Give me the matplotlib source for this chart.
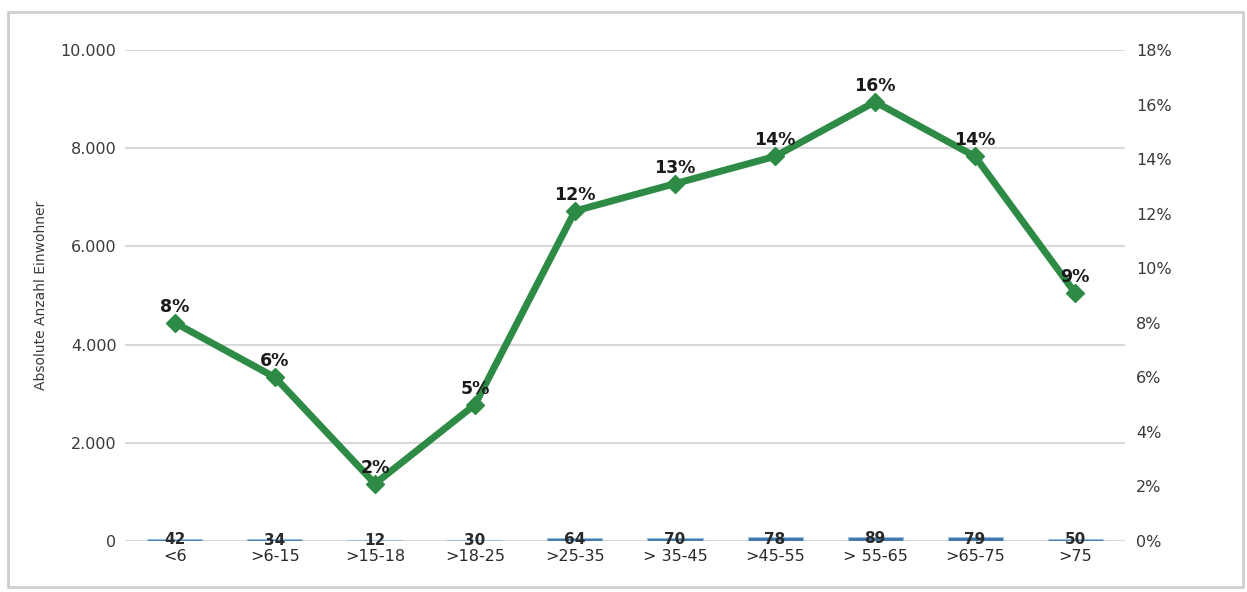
import matplotlib
matplotlib.use("Agg")
import matplotlib.pyplot as plt
from matplotlib.patches import Rectangle
from matplotlib.ticker import FuncFormatter

# Age groups
categories = ["<6", ">6-15", ">15-18", ">18-25", ">25-35", "> 35-45", ">45-55", "> 55-65", ">65-75", ">75"]
# Absolute counts (bars, left axis)
counts = [42, 34, 12, 30, 64, 70, 78, 89, 79, 50]
# Share of residents in percent (line, right axis)
shares = [8.0, 6.0, 2.1, 5.0, 12.1, 13.1, 14.1, 16.1, 14.1, 9.1]

left_ticks = [0, 2000, 4000, 6000, 8000, 10000]
right_ticks = list(range(0, 20, 2))

plt.rcParams["font.family"] = ["DejaVu Sans"]

fig = plt.figure(figsize=(12.47, 5.92), dpi=100)
fig.patch.set_facecolor("white")

ax = fig.add_axes([0.1002, 0.0861, 0.802, 0.8294])
x = list(range(len(categories)))

# Bars on the absolute axis
ax.bar(x, counts, width=0.55, color="#3f78a8", edgecolor="#9dbfdc", linewidth=0.8, zorder=2)
for xi, v in zip(x, counts):
    ax.text(xi, v / 2, str(v), ha="center", va="center", fontsize=11,
            fontweight="bold", color="#2a2a2a", zorder=5)

ax.set_ylim(0, 10000)
ax.set_xlim(-0.5, len(categories) - 0.5)
ax.set_yticks(left_ticks)
ax.yaxis.set_major_formatter(FuncFormatter(lambda v, p: f"{int(v):,}".replace(",", ".")))
ax.grid(axis="y", color="#d9d9d9", linewidth=1.5, zorder=0)
ax.set_axisbelow(True)
ax.set_xticks(x)
ax.set_xticklabels(categories, fontsize=11.5, color="#2a2a2a")
ax.tick_params(axis="x", length=0, pad=6)
ax.tick_params(axis="y", length=0, pad=6, labelsize=11.5, labelcolor="#3a3a3a")
ax.set_ylabel("Absolute Anzahl Einwohner", fontsize=10, color="#3a3a3a", labelpad=9)
for s in ax.spines.values():
    s.set_visible(False)

# Percentage line on the secondary axis
ax2 = ax.twinx()
ax2.set_ylim(0, 18)
ax2.set_yticks(right_ticks)
ax2.yaxis.set_major_formatter(FuncFormatter(lambda v, p: f"{int(round(v))}%"))
ax2.tick_params(axis="y", length=0, pad=8, labelsize=11.5, labelcolor="#3a3a3a")
for s in ax2.spines.values():
    s.set_visible(False)

ax2.plot(x, shares, color="#2e8b45", linewidth=5, marker="D", markersize=9,
         markerfacecolor="#2e8b45", markeredgecolor="#2e8b45", zorder=3,
         solid_joinstyle="round")
for xi, v in zip(x, shares):
    ax2.annotate(f"{v:.0f}%", (xi, v), xytext=(0, 5), textcoords="offset points",
                 ha="center", va="bottom", fontsize=12.5, fontweight="bold",
                 color="#1a1a1a", zorder=6)

# Light frame around the whole chart
fig.patches.append(Rectangle((0.0064, 0.008), 0.9904, 0.972, transform=fig.transFigure,
                             fill=False, edgecolor="#cfcfcf", linewidth=2.0))

fig.savefig("out.png", dpi=100, facecolor="white")
